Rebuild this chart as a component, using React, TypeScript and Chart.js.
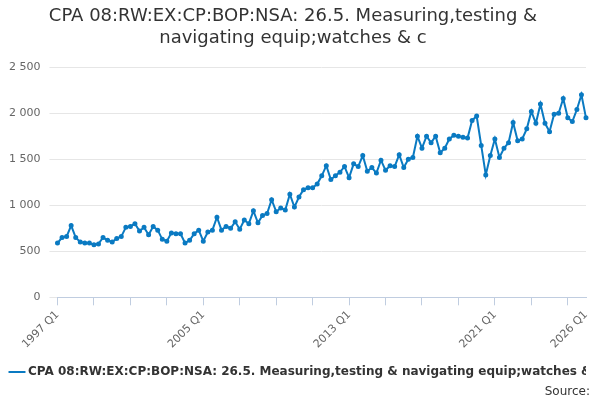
import React, { useEffect, useRef } from "react";
import { Chart, registerables } from "chart.js";
Chart.register(...registerables);

const years = Array.from({ length: 30 }, (_, i) => 1997 + i);
const labels: string[] = [];
years.forEach((y) => [1, 2, 3, 4].forEach((q) => labels.push(`${y} Q${q}`)));
const categories = labels.slice(0, 117);

const values = [
  590, 650, 660, 780, 650, 600, 590, 590,
  570, 580, 650, 620, 600, 640, 660, 760,
  770, 800, 720, 760, 680, 770, 730, 630,
  610, 700, 690, 690, 590, 620, 690, 730,
  610, 710, 730, 870, 730, 770, 750, 820,
  740, 840, 800, 940, 810, 890, 910, 1060,
  930, 970, 950, 1120, 980, 1090, 1170, 1190,
  1190, 1230, 1320, 1430, 1280, 1320, 1360, 1420,
  1300, 1450, 1420, 1540, 1370, 1410, 1350, 1490,
  1380, 1430, 1420, 1550, 1410, 1500, 1520, 1750,
  1620, 1750, 1680, 1750, 1570, 1620, 1720, 1760,
  1750, 1740, 1730, 1920, 1970, 1650, 1330, 1540,
  1720, 1520, 1620, 1680, 1900, 1700, 1720, 1830,
  2020, 1890, 2100, 1890, 1800, 1990, 2000,
  2160, 1950, 1910, 2040, 2200, 1950,
];
const seriesName = "CPA 08:RW:EX:CP:BOP:NSA: 26.5. Measuring,testing & navigating equip;watches & c";
const titleLines = ["CPA 08:RW:EX:CP:BOP:NSA: 26.5. Measuring,testing &", "navigating equip;watches & c"];

export default function App() {
  const ref = useRef<HTMLCanvasElement>(null);
  useEffect(() => {
    const n = values.length;
    const chart = new Chart(ref.current!, {
      type: "line",
      data: {
        labels: categories.slice(0, n),
        datasets: [{
          label: seriesName,
          data: values,
          borderColor: "#0a7ac2",
          backgroundColor: "#0a7ac2",
          borderWidth: 2,
          pointRadius: 1.5,
          pointHoverRadius: 2,
          tension: 0,
        }],
      },
      options: {
        animation: false,
        responsive: false,
        layout: { padding: { left: 0, right: 14, bottom: 0 } },
        plugins: {
          title: { display: true, text: titleLines, color: "#333", font: { family: "DejaVu Sans", size: 18, weight: "normal" }, padding: { top: 6, bottom: 18 } },
          legend: { position: "bottom", align: "start", labels: { usePointStyle: true, pointStyle: "line", boxWidth: 10, padding: 12, color: "#333", font: { family: "DejaVu Sans", size: 12, weight: "bold" } } },
          tooltip: { enabled: false },
        },
        scales: {
          x: {
            grid: { drawOnChartArea: false, color: (c: any) => (c.index % 8 === 0 ? "#c0cde0" : "rgba(0,0,0,0)"), tickLength: 8 },
            border: { color: "#c0cde0" },
            ticks: {
              autoSkip: false, maxRotation: 45, minRotation: 45, color: "#666",
              font: { family: "DejaVu Sans", size: 11 },
              callback: (_v: any, i: number) => (i % 32 === 0 || i === n - 1 ? categories[i] : ""),
            },
          },
          y: {
            min: 0, max: 2500,
            grid: { color: "#e6e6e6" },
            border: { display: false },
            ticks: { stepSize: 500, padding: 9, color: "#666", font: { family: "DejaVu Sans", size: 11 },
              callback: (v: any) => (v >= 1000 ? `${Math.floor(v / 1000)} ${String(v % 1000).padStart(3, "0")}` : String(v)) },
          },
        },
      },
    });
    return () => chart.destroy();
  }, []);
  return (
    <div style={{ position: "fixed", left: 0, top: 0, width: 600, height: 400, overflow: "hidden", background: "#fff" }}>
      <canvas ref={ref} width={600} height={388} />
      <div style={{ position: "absolute", right: 10, top: 384, fontFamily: "DejaVu Sans", fontSize: 12, color: "#333" }}>Source:</div>
    </div>
  );
}
